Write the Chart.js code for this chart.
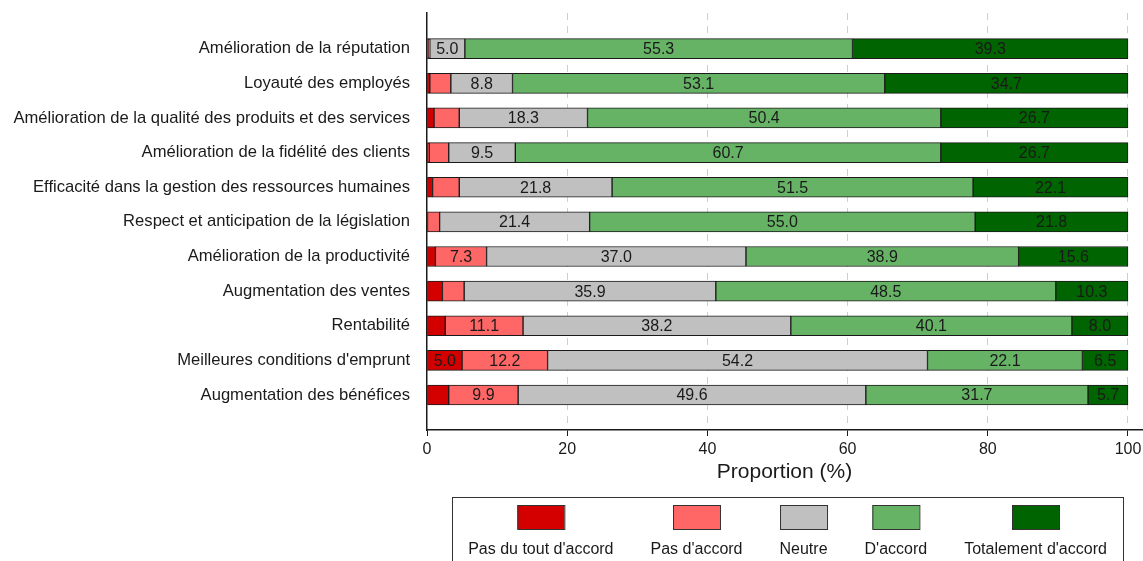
<!DOCTYPE html>
<html>
<head>
<meta charset="utf-8">
<script src="https://cdn.jsdelivr.net/npm/chart.js@4/dist/chart.umd.min.js"></script>
<style>
  html, body { margin: 0; padding: 0; background: #fff; }
  #wrap { width: 1143px; height: 561px; position: relative; }
</style>
</head>
<body>
<div id="wrap"><canvas id="chart"></canvas></div>
<script>
// Perception of benefits, stacked shares per item (%)
const categories = [
  "Amélioration de la réputation",
  "Loyauté des employés",
  "Amélioration de la qualité des produits et des services",
  "Amélioration de la fidélité des clients",
  "Efficacité dans la gestion des ressources humaines",
  "Respect et anticipation de la législation",
  "Amélioration de la productivité",
  "Augmentation des ventes",
  "Rentabilité",
  "Meilleures conditions d'emprunt",
  "Augmentation des bénéfices",
];

const seriesNames = ["Pas du tout d'accord", "Pas d'accord", "Neutre", "D'accord", "Totalement d'accord"];

const pasDuTout = [0.2, 0.4, 1.0, 0.3, 0.8, 0.0, 1.2, 2.2, 2.6, 5.0, 3.1];
const pasDaccord = [0.2, 3.0, 3.6, 2.8, 3.8, 1.8, 7.3, 3.1, 11.1, 12.2, 9.9];
const neutre = [5.0, 8.8, 18.3, 9.5, 21.8, 21.4, 37.0, 35.9, 38.2, 54.2, 49.6];
const daccord = [55.3, 53.1, 50.4, 60.7, 51.5, 55.0, 38.9, 48.5, 40.1, 22.1, 31.7];
const totalement = [39.3, 34.7, 26.7, 26.7, 22.1, 21.8, 15.6, 10.3, 8.0, 6.5, 5.7];

const xTicks = [0, 20, 40, 60, 80, 100];

const colors = ["#d40000", "#ff6666", "#c0c0c0", "#66b366", "#006400"];
const FONT = "'Liberation Sans', Arial, sans-serif";

const allSeries = [pasDuTout, pasDaccord, neutre, daccord, totalement];

const datasets = allSeries.map((vals, k) => ({
  label: seriesNames[k],
  data: vals.map((v, i) => ({ x: v, y: i })),
  backgroundColor: colors[k],
  borderColor: "#1a1a1a",
  borderWidth: 1,
  borderSkipped: false,
  barThickness: 20,
}));

// values inside the segments (only the wider ones)
const valueLabels = {
  id: "valueLabels",
  afterDatasetsDraw(chart) {
    const ctx = chart.ctx;
    ctx.save();
    ctx.font = "16px " + FONT;
    ctx.fillStyle = "#1a1a1a";
    ctx.textAlign = "center";
    ctx.textBaseline = "middle";
    chart.data.datasets.forEach((ds, k) => {
      const meta = chart.getDatasetMeta(k);
      meta.data.forEach((bar, i) => {
        const v = ds.data[i].x;
        if (v < 5) return;
        ctx.fillText(v.toFixed(1), (bar.x + bar.base) / 2, bar.y + 1);
      });
    });
    ctx.restore();
  },
};

// legend box under the chart: swatch on top, text below
const boxLegend = {
  id: "boxLegend",
  afterDraw(chart) {
    const ctx = chart.ctx;
    const left = 452, right = 1123, top = 497;
    const gap = 37;
    ctx.save();
    ctx.strokeStyle = "#333";
    ctx.lineWidth = 1;
    ctx.strokeRect(left + 0.5, top + 0.5, right - left, 100);
    ctx.font = "16px " + FONT;
    const widths = seriesNames.map((s) => ctx.measureText(s).width);
    const total = widths.reduce((a, b) => a + b, 0) + gap * (widths.length - 1);
    let x = (left + right) / 2 - total / 2;
    seriesNames.forEach((name, k) => {
      const cx = x + widths[k] / 2;
      ctx.fillStyle = colors[k];
      ctx.fillRect(cx - 23.5, 505, 47, 24);
      ctx.strokeStyle = "#333";
      ctx.strokeRect(cx - 23.5 + 0.5, 505.5, 47, 24);
      ctx.fillStyle = "#1a1a1a";
      ctx.textAlign = "center";
      ctx.textBaseline = "middle";
      ctx.fillText(name, cx, 550);
      x += widths[k] + gap;
    });
    ctx.restore();
  },
};

new Chart(document.getElementById("chart"), {
  type: "bar",
  data: { datasets: datasets },
  options: {
    indexAxis: "y",
    responsive: true,
    maintainAspectRatio: false,
    animation: false,
    layout: { padding: { top: 13, right: 1, bottom: 78, left: 0 } },
    plugins: {
      legend: { display: false },
      tooltip: { enabled: false },
    },
    scales: {
      x: {
        type: "linear",
        stacked: true,
        min: 0,
        max: 102,
        afterBuildTicks: (scale) => {
          scale.ticks = xTicks.map((v) => ({ value: v }));
        },
        afterFit: (scale) => {
          scale.paddingLeft = 0;
          scale.paddingRight = 0;
        },
        grid: {
          color: (c) => (c.tick && c.tick.value === 0 ? "rgba(0,0,0,0)" : "#cfcfcf"),
          lineWidth: 1,
          tickColor: "#1a1a1a",
          tickLength: 6,
        },
        border: { display: true, color: "#1a1a1a", width: 1.5, dash: [7, 6] },
        ticks: {
          color: "#1a1a1a",
          font: { family: FONT, size: 16, lineHeight: 1.0 },
          padding: 6,
          maxRotation: 0,
        },
        title: {
          display: true,
          text: "Proportion (%)",
          color: "#1a1a1a",
          font: { family: FONT, size: 21, lineHeight: 1.0 },
          padding: { top: -2, bottom: 0 },
        },
      },
      y: {
        type: "linear",
        stacked: true,
        reverse: true,
        offset: false,
        min: -1.03,
        max: 11.01,
        afterBuildTicks: (scale) => {
          scale.ticks = categories.map((c, i) => ({ value: i }));
        },
        afterFit: (scale) => {
          scale.width = 427;
          scale.paddingTop = 0;
          scale.paddingBottom = 0;
        },
        grid: { color: "rgba(0,0,0,0)", drawTicks: false, offset: false },
        border: { display: true, color: "#1a1a1a", width: 1.5 },
        ticks: {
          color: "#1a1a1a",
          font: { family: FONT, size: 16.6 },
          padding: 17,
          autoSkip: false,
          callback: (v) => categories[v],
        },
      },
    },
  },
  plugins: [valueLabels, boxLegend],
});
</script>
</body>
</html>
